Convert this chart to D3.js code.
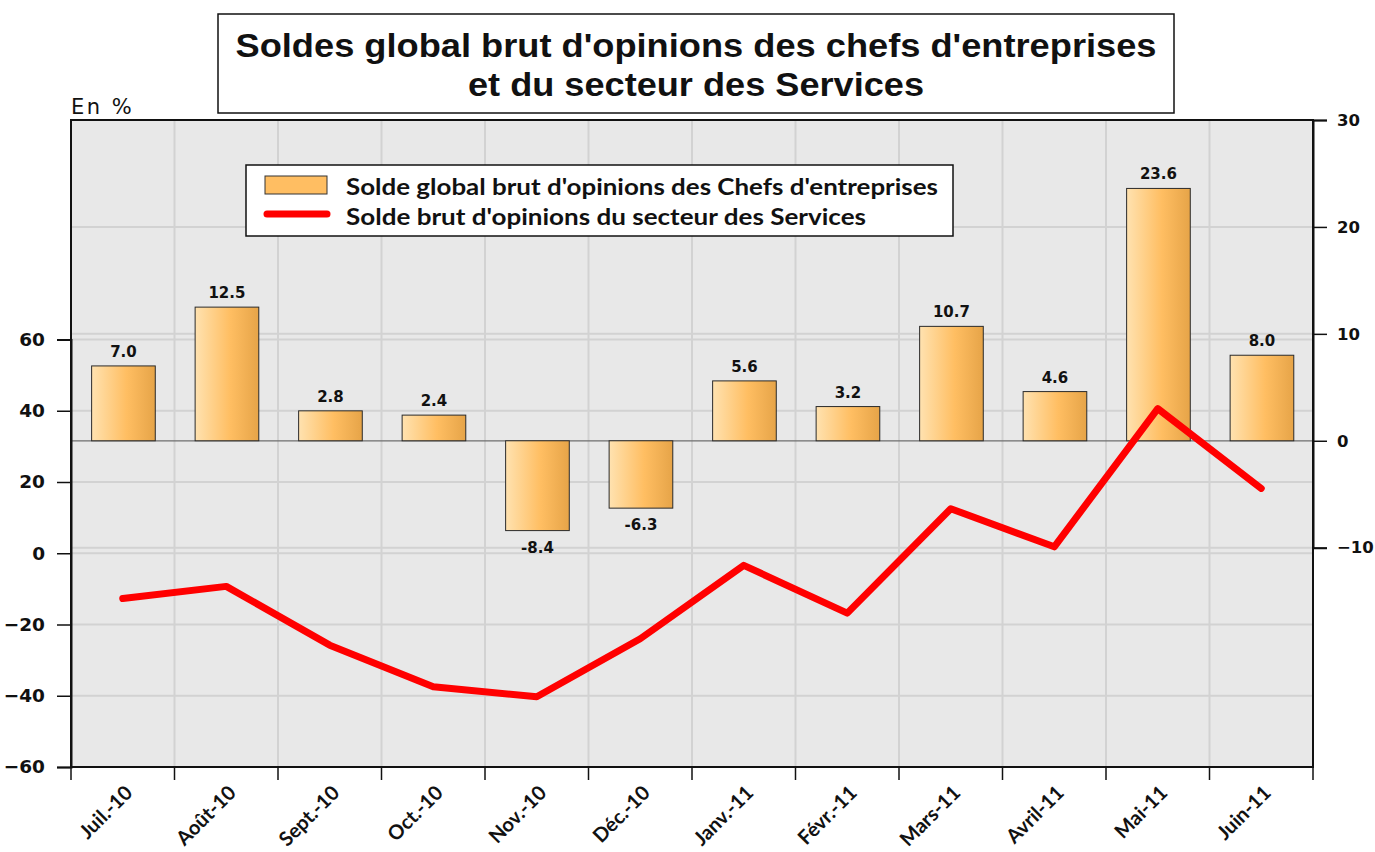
<!DOCTYPE html>
<html>
<head>
<meta charset="utf-8">
<script src="https://cdn.jsdelivr.net/npm/d3@7"></script>
<style>
  html, body { margin: 0; padding: 0; background: #ffffff; }
  svg { display: block; }
</style>
</head>
<body>
<svg id="chart" width="1375" height="852"></svg>
<script>
// ---- data ----
const categories = ["Juil.-10", "Août-10", "Sept.-10", "Oct.-10", "Nov.-10", "Déc.-10",
                    "Janv.-11", "Févr.-11", "Mars-11", "Avril-11", "Mai-11", "Juin-11"];
const chefsValues = [7.0, 12.5, 2.8, 2.4, -8.4, -6.3, 5.6, 3.2, 10.7, 4.6, 23.6, 8.0];
const servicesValues = [-12.7, -9.3, -25.8, -37.5, -40.3, -24.0, -3.4, -16.8, 12.5, 1.8, 40.6, 18.2];
const leftTicks = [-60, -40, -20, 0, 20, 40, 60];
const rightTicks = [-10, 0, 10, 20, 30];
const rightGrid = [-10, 10, 20];
const titleLines = ["Soldes global brut d'opinions des chefs d'entreprises", "et du secteur des Services"];
const legendLabels = ["Solde global brut d'opinions des Chefs d'entreprises", "Solde brut d'opinions du secteur des Services"];
const unitLabel = "En %";

// ---- layout ----
const plot = { left: 71, right: 1313, top: 120, bottom: 767 };
const svg = d3.select("#chart");

const x = d3.scaleBand().domain(categories).range([plot.left, plot.right]).paddingInner(0).paddingOuter(0);
const yL = d3.scaleLinear().domain([-60, 60]).range([767, 339.5]);
const yR = d3.scaleLinear().domain([-10, 30]).range([547.7, 120]);

const numFont = "'DejaVu Sans', Verdana, sans-serif";
const narrowFont = "'Liberation Sans Narrow', 'Arial Narrow', 'Liberation Sans', Arial, sans-serif";
const labelFont = "Lato, 'Open Sans', sans-serif";

// gradient
const defs = svg.append("defs");
const grad = defs.append("linearGradient").attr("id", "barGrad").attr("x1", "0%").attr("x2", "100%").attr("y1", "0%").attr("y2", "0%");
grad.append("stop").attr("offset", "0%").attr("stop-color", "#FFE2B0");
grad.append("stop").attr("offset", "55%").attr("stop-color", "#FFBE62");
grad.append("stop").attr("offset", "100%").attr("stop-color", "#E6A448");

// plot background
svg.append("rect").attr("x", plot.left).attr("y", plot.top)
  .attr("width", plot.right - plot.left).attr("height", plot.bottom - plot.top)
  .attr("fill", "#E8E8E8");

// grid lines
const grid = svg.append("g").attr("stroke", "#D2D2D2").attr("stroke-width", 2);
grid.selectAll("line.vg").data(categories.slice(1)).join("line")
  .attr("x1", d => x(d)).attr("x2", d => x(d))
  .attr("y1", plot.top).attr("y2", plot.bottom);
grid.selectAll("line.lg").data(leftTicks.filter(d => d > -60)).join("line")
  .attr("x1", plot.left).attr("x2", plot.right)
  .attr("y1", d => yL(d)).attr("y2", d => yL(d));
grid.selectAll("line.rg").data(rightGrid).join("line")
  .attr("x1", plot.left).attr("x2", plot.right)
  .attr("y1", d => yR(d)).attr("y2", d => yR(d));

// zero line (right axis)
svg.append("line").attr("x1", plot.left).attr("x2", plot.right)
  .attr("y1", yR(0)).attr("y2", yR(0)).attr("stroke", "#6E6E6E").attr("stroke-width", 1.2);

// bars
const barW = x.bandwidth() * 0.615;
svg.append("g").selectAll("rect").data(chefsValues).join("rect")
  .attr("x", (d, i) => x(categories[i]) + x.bandwidth() / 2 - barW / 2 + 0.7)
  .attr("y", d => Math.min(yR(d), yR(0)))
  .attr("width", barW)
  .attr("height", d => Math.abs(yR(d) - yR(0)))
  .attr("fill", "url(#barGrad)")
  .attr("stroke", "#2a2a2a").attr("stroke-width", 1);

// bar labels
svg.append("g").selectAll("text").data(chefsValues).join("text")
  .attr("x", (d, i) => x(categories[i]) + x.bandwidth() / 2 + 0.7)
  .attr("y", d => d >= 0 ? yR(d) - 9 : yR(d) + 22)
  .attr("text-anchor", "middle")
  .attr("font-family", numFont).attr("font-weight", "bold").attr("font-size", 15)
  .attr("fill", "#111")
  .text(d => d.toFixed(1));

// line
const line = d3.line()
  .x((d, i) => x(categories[i]) + x.bandwidth() / 2)
  .y(d => yL(d));
svg.append("path").datum(servicesValues)
  .attr("d", line).attr("fill", "none")
  .attr("stroke", "#FF0000").attr("stroke-width", 7)
  .attr("stroke-linejoin", "round").attr("stroke-linecap", "round");

// plot border
svg.append("rect").attr("x", plot.left).attr("y", plot.top)
  .attr("width", plot.right - plot.left).attr("height", plot.bottom - plot.top)
  .attr("fill", "none").attr("stroke", "#111").attr("stroke-width", 2);

// left axis
const leftAxis = svg.append("g").attr("transform", `translate(${plot.left},0)`)
  .call(d3.axisLeft(yL).tickValues(leftTicks).tickSize(14).tickPadding(12).tickFormat(d3.format("d")));
leftAxis.select(".domain").attr("stroke", "#111").attr("stroke-width", 2);
leftAxis.selectAll(".tick line").attr("stroke", "#111").attr("stroke-width", 1.5);
leftAxis.selectAll(".tick text").attr("font-family", numFont).attr("font-weight", "bold")
  .attr("font-size", 18.5).attr("fill", "#111");

// right axis
const rightAxis = svg.append("g").attr("transform", `translate(${plot.right},0)`)
  .call(d3.axisRight(yR).tickValues(rightTicks).tickSize(14).tickPadding(10).tickFormat(d3.format("d")));
rightAxis.select(".domain").attr("stroke", "#111").attr("stroke-width", 2);
rightAxis.selectAll(".tick line").attr("stroke", "#111").attr("stroke-width", 1.5);
rightAxis.selectAll(".tick text").attr("font-family", numFont).attr("font-weight", "bold")
  .attr("font-size", 16.5).attr("fill", "#111");

// bottom axis: ticks at category boundaries
const boundaries = categories.map(c => x(c)).concat([plot.right]);
svg.append("g").selectAll("line").data(boundaries).join("line")
  .attr("x1", d => d).attr("x2", d => d)
  .attr("y1", plot.bottom).attr("y2", plot.bottom + 13)
  .attr("stroke", "#111").attr("stroke-width", 1.5);
svg.append("g").selectAll("text").data(categories).join("text")
  .attr("transform", d => `translate(${x(d) + x.bandwidth() / 2 + 11},794) rotate(-45)`)
  .attr("text-anchor", "end")
  .attr("font-family", labelFont).attr("font-weight", "bold").attr("font-size", 20)
  .attr("fill", "#111")
  .text(d => d);

// unit label
svg.append("text").attr("x", 71).attr("y", 114)
  .attr("font-family", numFont).attr("font-size", 21).attr("letter-spacing", 2.5).attr("fill", "#111")
  .text(unitLabel);

// title box
svg.append("rect").attr("x", 218).attr("y", 14).attr("width", 956).attr("height", 99)
  .attr("fill", "#fff").attr("stroke", "#111").attr("stroke-width", 1.5);
const titleWidths = [921, 456];
svg.append("g").selectAll("text").data(titleLines).join("text")
  .attr("x", 696).attr("y", (d, i) => 57 + i * 39)
  .attr("text-anchor", "middle")
  .attr("font-family", narrowFont).attr("font-weight", "bold").attr("font-size", 33)
  .attr("textLength", (d, i) => titleWidths[i]).attr("lengthAdjust", "spacingAndGlyphs")
  .attr("fill", "#111")
  .text(d => d);

// legend
const lg = svg.append("g");
lg.append("rect").attr("x", 246).attr("y", 165).attr("width", 707).attr("height", 71)
  .attr("fill", "#fff").attr("stroke", "#111").attr("stroke-width", 1.5);
lg.append("rect").attr("x", 265).attr("y", 176).attr("width", 62).attr("height", 18)
  .attr("fill", "#FFBE62").attr("stroke", "#333").attr("stroke-width", 1);
lg.append("line").attr("x1", 267).attr("x2", 327).attr("y1", 214).attr("y2", 214)
  .attr("stroke", "#FF0000").attr("stroke-width", 7).attr("stroke-linecap", "round");
const legendWidths = [592, 520];
lg.selectAll("text").data(legendLabels).join("text")
  .attr("x", 346).attr("y", (d, i) => 195 + i * 30)
  .attr("font-family", labelFont).attr("font-weight", "bold").attr("font-size", 22)
  .attr("textLength", (d, i) => legendWidths[i]).attr("lengthAdjust", "spacingAndGlyphs")
  .attr("fill", "#111")
  .text(d => d);
</script>
</body>
</html>
